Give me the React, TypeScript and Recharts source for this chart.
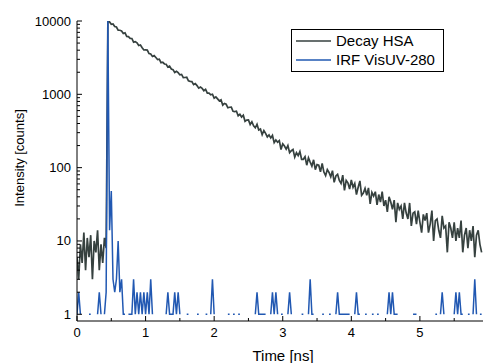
import React from 'react';
import { LineChart, Line, XAxis, YAxis, Legend, Label } from 'recharts';

const _ = null;

// TCSPC channel width in ns (time axis = channel index * width)
const channelWidth = 0.025;

// Decay HSA, counts before the excitation pulse (channels 0..17)
const decayBackground = [6, 3, 9, 5, 13, 4, 11, 6, 12, 3, 10, 7, 14, 4, 9, 5, 11, 8];

// Decay HSA, counts from the peak on (channels 18..236)
const decayTail = [
  10000, 9696, 9018, 9124, 8401, 8268, 7490, 7474, 7322, 6758,
  6888, 6156, 6125, 5795, 5778, 5144, 5235, 5027, 4637, 4702,
  4329, 4022, 4031, 4011, 3591, 3543, 3280, 3376, 3177, 2988,
  3019, 2698, 2734, 2594, 2569, 2353, 2424, 2217, 2174, 1988,
  2063, 1971, 1840, 1866, 1691, 1695, 1707, 1531, 1501, 1493,
  1359, 1405, 1314, 1212, 1255, 1205, 1121, 1169, 1038, 1041,
  986, 1002, 887, 924, 866, 813, 841, 713, 750, 732,
  655, 666, 668, 586, 580, 587, 511, 535, 490, 519,
  429, 446, 448, 388, 423, 373, 350, 391, 327, 336,
  282, 321, 294, 263, 280, 254, 275, 219, 238, 222,
  233, 177, 211, 197, 179, 200, 160, 170, 177, 139,
  160, 146, 166, 130, 130, 141, 108, 136, 119, 105,
  128, 94, 110, 108, 88, 114, 87, 78, 94, 86,
  75, 91, 63, 77, 81, 67, 61, 79, 49, 67,
  62, 51, 68, 54, 61, 43, 54, 66, 42, 45,
  52, 42, 53, 32, 46, 41, 47, 31, 43, 34,
  47, 30, 36, 25, 40, 34, 27, 36, 18, 33,
  27, 30, 20, 33, 24, 20, 33, 16, 24, 25,
  17, 26, 18, 13, 23, 19, 24, 13, 17, 26,
  10, 19, 20, 14, 11, 22, 15, 16, 7, 18,
  15, 11, 18, 10, 15, 11, 19, 7, 12, 15,
  8, 14, 10, 16, 6, 12, 14, 9, 7,
];

// IRF VisUV-280, counts per channel (null = no counts)
const irfCounts = [
  1, 2, 1, _, _, _, _, 1, 1, _,
  _, _, 1, 2, 1, _, 1, 2, 10000, 14,
  48, 3, 2, 3, 10, 2, 3, 1, 1, _,
  1, 1, 1, 3, 1, 2, 1, 2, 1, 2,
  1, 2, 1, 3, 1, _, _, _, _, _,
  _, _, 1, 2, 1, 1, 1, 2, 1, 2,
  1, _, _, _, 1, 1, _, _, _, _,
  1, 1, _, 1, _, 1, 1, _, 1, 3,
  1, _, _, _, _, _, _, _, 1, 1,
  _, 1, 1, _, 1, 1, _, _, _, _,
  _, _, _, _, 1, 2, 1, 1, 1, 1,
  1, _, _, 1, 2, 1, 2, 1, _, 1,
  1, _, _, 1, 2, 1, _, _, _, _,
  _, 1, 1, _, _, 1, 3, 1, 1, _,
  _, _, _, 1, 1, _, _, 1, 1, _,
  _, 1, 2, 1, 1, 1, 1, 1, 1, 1,
  _, _, 1, 2, 1, 1, _, _, 1, 1,
  _, _, 1, 1, _, 1, 1, _, _, _,
  _, 1, 2, 1, 2, 1, 1, 1, _, _,
  _, _, _, _, _, _, 1, 1, 1, _,
  _, _, _, _, _, _, _, _, _, 1,
  1, _, 1, 2, 1, _, _, _, _, _,
  1, 2, 1, 2, 1, 1, _, _, 1, 1,
  _, 1, 3, 1, _, 1, 1,
];

const xTicks = [0, 0.5, 1, 1.5, 2, 2.5, 3, 3.5, 4, 4.5, 5, 5.5];
const yTicks = [
  1, 2, 3, 4, 5, 6, 7, 8, 9,
  10, 20, 30, 40, 50, 60, 70, 80, 90,
  100, 200, 300, 400, 500, 600, 700, 800, 900,
  1000, 2000, 3000, 4000, 5000, 6000, 7000, 8000, 9000,
  10000,
];
const yLabels = [1, 10, 100, 1000, 10000];

const decayCounts = [...decayBackground, ...decayTail];
const data = decayCounts.map((c, i) => ({
  t: Math.round(i * channelWidth * 1000) / 1000,
  decay: c,
  irf: irfCounts[i],
}));

const FONT = '"Liberation Sans", Arial, Helvetica, sans-serif';
const DECAY_COLOR = '#36413f';
const IRF_COLOR = '#2158b2';

const BottomTick = ({ x, y, payload }: any) => {
  const major = Number.isInteger(payload.value);
  return (
    <g>
      <line x1={x} x2={x} y1={y} y2={y - (major ? 5 : 3)} stroke="#000" />
      {major && (
        <text x={x} y={y + 16} textAnchor="middle" fontSize={13} fontFamily={FONT} fill="#000">
          {payload.value}
        </text>
      )}
    </g>
  );
};

const TopTick = ({ x, y, payload }: any) => {
  const major = Number.isInteger(payload.value);
  return <line x1={x} x2={x} y1={y} y2={y + (major ? 5 : 3)} stroke="#000" />;
};

const LeftTick = ({ x, y, payload }: any) => {
  const major = yLabels.includes(payload.value);
  return (
    <g>
      <line x1={x} x2={x + (major ? 5 : 3)} y1={y} y2={y} stroke="#000" />
      {major && (
        <text x={x - 6} y={y + 4.5} textAnchor="end" fontSize={13} fontFamily={FONT} fill="#000">
          {payload.value}
        </text>
      )}
    </g>
  );
};

const RightTick = ({ x, y, payload }: any) => {
  const major = yLabels.includes(payload.value);
  return <line x1={x} x2={x - (major ? 5 : 3)} y1={y} y2={y} stroke="#000" />;
};

const renderYLabel = () => (
  <text
    x={24}
    y={158}
    transform="rotate(-90 24 158)"
    textAnchor="middle"
    fontSize={13}
    fontFamily={FONT}
    fill="#000"
  >
    Intensity [counts]
  </text>
);

const renderLegend = ({ payload }: any) => (
  <div
    style={{
      boxSizing: 'border-box',
      width: 153,
      height: 43,
      border: '1px solid #000',
      background: '#fff',
      padding: '2px 0 0 4px',
      fontFamily: FONT,
      fontSize: 15,
      color: '#000',
    }}
  >
    {(payload || []).map((entry: any) => (
      <div key={entry.value} style={{ display: 'flex', alignItems: 'center', height: 18.5 }}>
        <svg width={35} height={4} style={{ marginRight: 5 }}>
          <line x1={0} x2={35} y1={2} y2={2} stroke={entry.color} strokeWidth={1.5} />
        </svg>
        <span style={{ lineHeight: '18px', whiteSpace: 'nowrap' }}>{entry.value}</span>
      </div>
    ))}
  </div>
);

export default function App() {
  return (
    <div style={{ position: 'absolute', left: 0, top: 0, width: 486, height: 363, background: '#fff' }}>
      <LineChart width={486} height={363} data={data} margin={{ top: 21, right: 3, bottom: 0, left: 0 }}>
        <XAxis
          dataKey="t"
          type="number"
          domain={[0, 5.92]}
          allowDataOverflow
          ticks={xTicks}
          interval={0}
          height={42}
          tickSize={0}
          tickMargin={0}
          tickLine={false}
          axisLine={{ stroke: '#000', strokeWidth: 1 }}
          tick={BottomTick}
        >
          <Label
            value="Time [ns]"
            position="insideBottom"
            offset={2}
            dx={3}
            fontSize={15}
            fontFamily={FONT}
            fill="#000"
          />
        </XAxis>
        <XAxis
          xAxisId="top"
          orientation="top"
          dataKey="t"
          type="number"
          domain={[0, 5.92]}
          allowDataOverflow
          ticks={xTicks}
          interval={0}
          height={0}
          tickSize={0}
          tickMargin={0}
          tickLine={false}
          axisLine={{ stroke: '#000', strokeWidth: 1 }}
          tick={TopTick}
        />
        <YAxis
          scale="log"
          type="number"
          domain={[0.81, 10000]}
          allowDataOverflow
          ticks={yTicks}
          interval={0}
          width={77}
          tickSize={0}
          tickMargin={0}
          tickLine={false}
          axisLine={{ stroke: '#000', strokeWidth: 1 }}
          tick={LeftTick}
        >
          <Label content={renderYLabel} />
        </YAxis>
        <YAxis
          yAxisId="right"
          orientation="right"
          scale="log"
          type="number"
          domain={[0.81, 10000]}
          allowDataOverflow
          ticks={yTicks}
          interval={0}
          width={0}
          tickSize={0}
          tickMargin={0}
          tickLine={false}
          axisLine={{ stroke: '#000', strokeWidth: 1 }}
          tick={RightTick}
        />
        <Legend
          layout="horizontal"
          verticalAlign="middle"
          align="center"
          wrapperStyle={{ left: 291, top: 29, width: 153, height: 43 }}
          content={renderLegend}
        />
        <Line
          name="Decay HSA"
          dataKey="decay"
          type="linear"
          stroke={DECAY_COLOR}
          strokeWidth={1.7}
          dot={false}
          activeDot={false}
          isAnimationActive={false}
        />
        <Line
          name="IRF VisUV-280"
          dataKey="irf"
          type="linear"
          stroke={IRF_COLOR}
          strokeWidth={1.5}
          dot={false}
          activeDot={false}
          isAnimationActive={false}
        />
      </LineChart>
    </div>
  );
}
